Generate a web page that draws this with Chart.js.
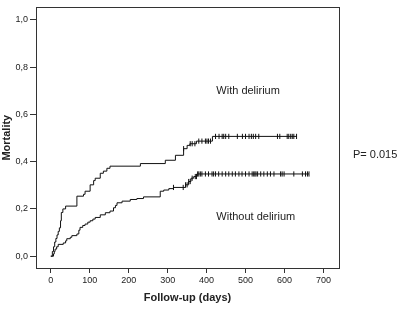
<!DOCTYPE html>
<html><head><meta charset="utf-8">
<script src="https://cdn.jsdelivr.net/npm/chart.js@4/dist/chart.umd.min.js"></script>
<style>html,body{margin:0;padding:0;background:#fff}</style>
</head><body>
<canvas id="c" width="401" height="309"></canvas>
<script>
// Kaplan-Meier style cumulative mortality (step values after each event)
const withDays = [0,4,7,10,13,16,19,22,25,27,31,38,67,84,88,101,110,114,127,135,144,152,230,294,320,341,350,357,374,415,631];
const withMort = [0,0.02,0.04,0.06,0.075,0.09,0.105,0.12,0.15,0.185,0.2,0.212,0.254,0.262,0.275,0.302,0.32,0.33,0.351,0.36,0.372,0.381,0.392,0.406,0.427,0.455,0.469,0.476,0.487,0.507,0.507];
const withoutDays = [0,7,9,11,15,19,32,38,41,50,54,67,72,75,82,88,95,101,108,114,127,140,152,161,166,170,183,204,221,238,281,290,303,315,346,354,360,367,375,663];
const withoutMort = [0,0.01,0.02,0.03,0.04,0.05,0.056,0.065,0.074,0.08,0.087,0.094,0.11,0.122,0.13,0.136,0.144,0.15,0.157,0.164,0.175,0.184,0.191,0.205,0.215,0.226,0.233,0.24,0.244,0.251,0.275,0.28,0.286,0.291,0.302,0.316,0.33,0.337,0.348,0.348];
// censored observations (days)
const withCensor = [341,358,363,370,380,388,397,401,405,410,423,432,440,444,449,457,479,492,500,509,515,520,526,534,582,588,607,611,616,620,624,631];
const withoutCensor = [315,340,346,350,354,358,363,371,374,377,380,384,388,397,405,414,418,423,431,440,449,457,466,474,483,491,500,509,517,521,524,527,531,539,547,556,564,573,590,594,599,624,646,654,659,663];
const xTicks = [0,100,200,300,400,500,600,700];
const yTicks = [0,0.2,0.4,0.6,0.8,1.0];
const groupLabels = ['With delirium','Without delirium'];
const pText = 'P= 0.015';

function stepAt(days, vals, t){ let v = 0; for (let i=0;i<days.length;i++){ if (days[i] <= t) v = vals[i]; } return v; }
const pts = (d,v) => d.map((x,i)=>({x:x,y:v[i]}));
const cens = (c,d,v) => c.map(t=>({x:t,y:stepAt(d,v,t)}));

const FONT = '"Liberation Sans", Arial, sans-serif';
const ink = '#222';

const annot = {
  id:'annot',
  afterDraw(chart){
    const {ctx, chartArea:a, scales:{x,y}} = chart;
    ctx.save();
    ctx.strokeStyle = '#333'; ctx.lineWidth = 1;
    ctx.strokeRect(Math.round(a.left)+0.5, Math.round(a.top)+0.5, Math.round(a.right-a.left), Math.round(a.bottom-a.top));
    ctx.fillStyle = ink; ctx.font = '11px ' + FONT; ctx.textBaseline = 'middle'; ctx.textAlign = 'left';
    ctx.fillText(groupLabels[0], x.getPixelForValue(425), y.getPixelForValue(0.70));
    ctx.fillText(groupLabels[1], x.getPixelForValue(425), y.getPixelForValue(0.166));
    ctx.fillText(pText, a.right + 14, y.getPixelForValue(0.43));
    ctx.restore();
  }
};

new Chart(document.getElementById('c'), {
  data: {
    datasets: [
      {type:'line', data: pts(withDays, withMort), stepped:true, borderColor:'#111', borderWidth:1, pointRadius:0, fill:false},
      {type:'line', data: pts(withoutDays, withoutMort), stepped:true, borderColor:'#111', borderWidth:1, pointRadius:0, fill:false},
      {type:'scatter', data: cens(withCensor, withDays, withMort), pointStyle:'line', rotation:90, pointRadius:2.6, borderColor:'#111', borderWidth:1},
      {type:'scatter', data: cens(withoutCensor, withoutDays, withoutMort), pointStyle:'line', rotation:90, pointRadius:2.6, borderColor:'#111', borderWidth:1}
    ]
  },
  options: {
    responsive:false, animation:false, devicePixelRatio:1,
    layout:{padding:{left:0,right:62,top:3,bottom:0}},
    plugins:{legend:{display:false}, tooltip:{enabled:false}},
    scales:{
      x:{type:'linear', min:-38, max:740,
        afterBuildTicks: s => { s.ticks = xTicks.map(v=>({value:v})); },
        afterFit: s => { s.height = 41; },
        border:{display:false},
        grid:{drawOnChartArea:false, drawTicks:true, tickLength:5, color:'#333'},
        ticks:{font:{family:FONT,size:9}, color:ink, padding:2, maxRotation:0, autoSkip:false, callback:v=>String(v)},
        title:{display:true, text:'Follow-up (days)', font:{family:FONT,size:11,weight:'bold',lineHeight:1.2}, color:ink, padding:{top:0,bottom:4}}
      },
      y:{type:'linear', min:-0.05, max:1.053,
        afterBuildTicks: s => { s.ticks = yTicks.map(v=>({value:v})); },
        afterFit: s => { s.width = 36; },
        border:{display:false},
        grid:{drawOnChartArea:false, drawTicks:true, tickLength:6, color:'#333'},
        ticks:{font:{family:FONT,size:9}, color:ink, padding:2, autoSkip:false, callback:v=>v.toFixed(1).replace('.',',')},
        title:{display:true, text:'Mortality', font:{family:FONT,size:11,weight:'bold',lineHeight:1.2}, color:ink, padding:{top:0,bottom:0}}
      }
    }
  },
  plugins:[annot]
});
</script>
</body></html>
